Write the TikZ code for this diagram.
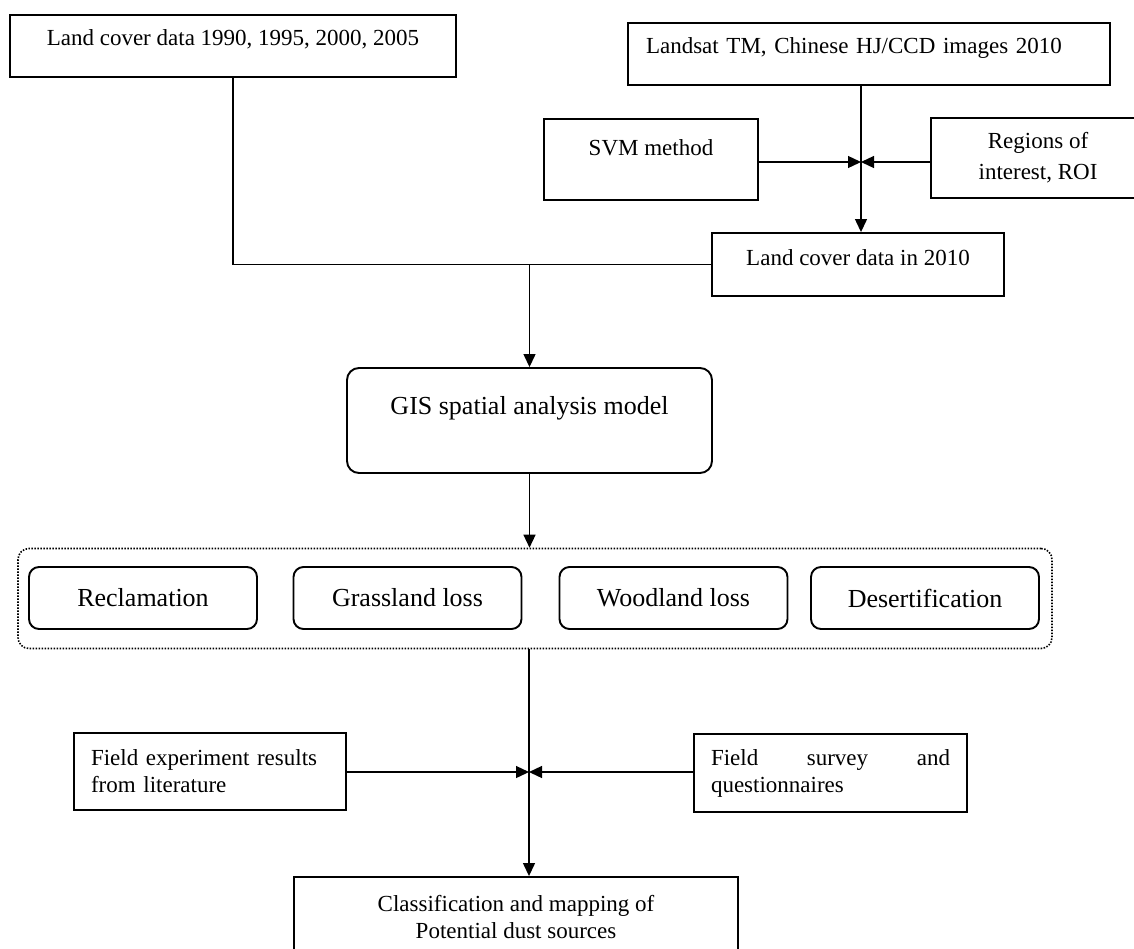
\documentclass[tikz,border=0pt]{standalone}
\usepackage{fontspec}
\setmainfont{Liberation Serif}
\usetikzlibrary{arrows.meta}
\newcommand\liftby[2]{\raisebox{#1}[\height][\depth]{#2}}
\begin{document}
\begin{tikzpicture}[x=1pt,y=-1pt,
  box/.style={draw, line width=1.9pt, rectangle, inner sep=0pt, font=\fontsize{23}{27}\selectfont},
  rbox/.style={box, rounded corners=12pt, font=\fontsize{26}{30}\selectfont},
  catbox/.style={rbox, rounded corners=10pt, minimum width=228pt, minimum height=62pt},
  dotbox/.style={draw, line width=1.6pt, dash pattern=on 1.5pt off 1.5pt, rounded corners=11pt, inner sep=0pt},
  conn/.style={line width=1.3pt},
  arr/.style={conn, -{Triangle[length=13pt,width=12pt]}},
]
\useasboundingbox (0,0) rectangle (1134,948);
\clip (0,0) rectangle (1134,948);

\node[box, minimum width=446pt, minimum height=62pt] (A) at (233,46) {\liftby{7pt}{Land cover data 1990, 1995, 2000, 2005}};
\node[box, minimum width=482pt, minimum height=62pt, text width=446pt, align=left] (B) at (869,54) {\liftby{6pt}{Landsat TM, Chinese HJ/CCD images 2010}};
\node[box, minimum width=214pt, minimum height=81pt] (SVM) at (651,159.5) {\liftby{11.5pt}{SVM method}};
\node[box, minimum width=214pt, minimum height=80pt, align=center, font=\fontsize{23}{31}\selectfont] (ROI) at (1038,158) {Regions of\\interest, ROI};
\node[box, minimum width=292pt, minimum height=63pt] (L) at (858,264.5) {\liftby{7pt}{Land cover data in 2010}};
\node[rbox, minimum width=365pt, minimum height=105pt] (GIS) at (529.5,420.5) {\liftby{12pt}{GIS spatial analysis model}};

\node[dotbox, minimum width=1034pt, minimum height=100pt] (C) at (535,598.5) {};
\node[catbox] (R1) at (143,598) {Reclamation};
\node[catbox] (R2) at (407.5,598) {Grassland loss};
\node[catbox] (R3) at (673.5,598) {Woodland loss};
\node[catbox] (R4) at (925,598) {Desertification};

\node[box, minimum width=272pt, minimum height=77pt, text width=238pt, align=left] (FE) at (210,771.5) {Field experiment results\\from literature};
\node[box, minimum width=273pt, minimum height=78pt, text width=239pt, align=left] (FS) at (830.5,773) {\hbox to 239pt{Field\hfill survey\hfill and}\\questionnaires};
\node[box, minimum width=444pt, minimum height=80pt, align=center] (F) at (516,917) {Classification and mapping of\\Potential dust sources};

\coordinate (jB) at (861,162);
\draw[arr] (B.south -| jB) -- (L.north -| jB);
\draw[arr] (SVM.east |- jB) -- (jB);
\draw[arr] (ROI.west |- jB) -- (jB);

\coordinate (j1) at (GIS.north |- L.west);
\draw[conn] (A.south) |- (L.west);
\draw[arr] (j1) -- (GIS.north);
\draw[arr] (GIS.south) -- (GIS.south |- C.north);

\coordinate (jx) at (529,772);
\draw[arr] (C.south -| jx) -- (F.north -| jx);
\draw[arr] (FE.east |- jx) -- (jx);
\draw[arr] (FS.west |- jx) -- (jx);
\end{tikzpicture}
\end{document}
